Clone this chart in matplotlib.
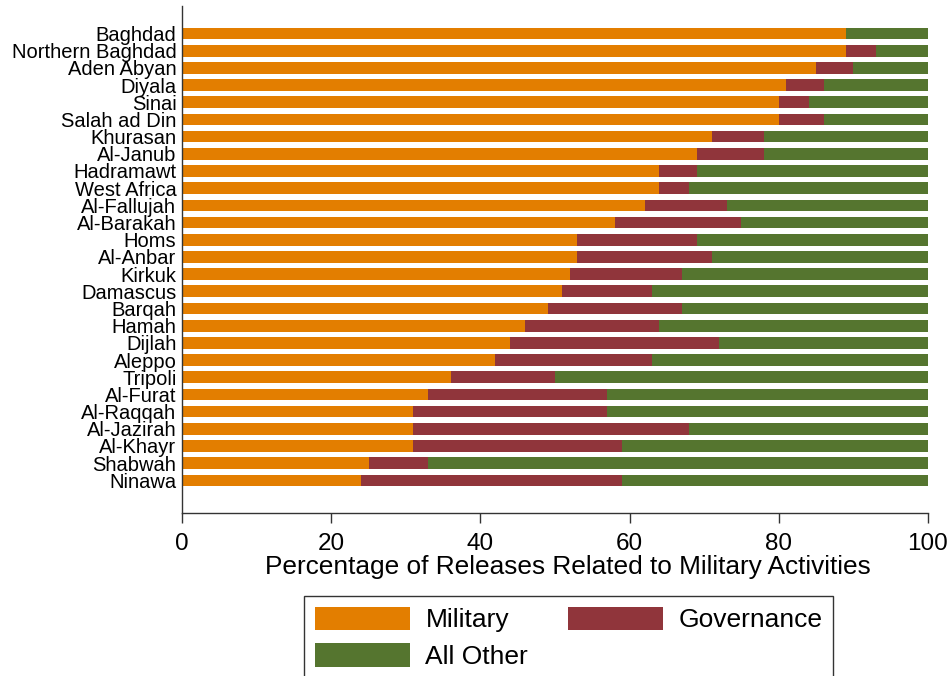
import numpy as np
import matplotlib
matplotlib.use("Agg")
import matplotlib.pyplot as plt

# Share of releases by province (percent)
provinces = ["Baghdad", "Northern Baghdad", "Aden Abyan", "Diyala", "Sinai",
             "Salah ad Din", "Khurasan", "Al-Janub", "Hadramawt", "West Africa",
             "Al-Fallujah", "Al-Barakah", "Homs", "Al-Anbar", "Kirkuk",
             "Damascus", "Barqah", "Hamah", "Dijlah", "Aleppo", "Tripoli",
             "Al-Furat", "Al-Raqqah", "Al-Jazirah", "Al-Khayr", "Shabwah", "Ninawa"]
military = [89, 89, 85, 81, 80, 80, 71, 69, 64, 64, 62, 58, 53, 53, 52,
            51, 49, 46, 44, 42, 36, 33, 31, 31, 31, 25, 24]
# cumulative end of the governance segment
mil_gov = [89, 93, 90, 86, 84, 86, 78, 78, 69, 68, 73, 75, 69, 71, 67,
           63, 67, 64, 72, 63, 50, 57, 57, 68, 59, 33, 59]

military = np.array(military, dtype=float)
governance = np.array(mil_gov, dtype=float) - military
other = 100 - military - governance

plt.rcParams["font.family"] = ["Liberation Sans", "DejaVu Sans"]

c_mil = "#E37E00"
c_gov = "#90353B"
c_oth = "#55752F"

fig = plt.figure(figsize=(9.49, 6.76), dpi=100)
ax = fig.add_axes([182 / 949, 1 - 513 / 676, (928 - 182) / 949, (513 - 6) / 676])

y = np.arange(len(provinces))[::-1]
h = 0.68
ax.barh(y, military, height=h, color=c_mil, label="Military")
ax.barh(y, other, left=military + governance, height=h, color=c_oth, label="All Other")
ax.barh(y, governance, left=military, height=h, color=c_gov, label="Governance")

ax.set_xlim(0, 100)
ax.set_ylim(-1.9, 27.6)
ax.set_yticks(y)
ax.set_yticklabels(provinces, fontsize=14.5)
ax.tick_params(axis="y", length=0, pad=4)
ax.set_xticks([0, 20, 40, 60, 80, 100])
ax.tick_params(axis="x", length=7.2, width=1, labelsize=17.5, pad=7.5, color="#333333")
ax.set_xlabel("Percentage of Releases Related to Military Activities",
              fontsize=18.9, labelpad=0)
ax.xaxis.label.set_x(0.517)

for s in ["top", "right"]:
    ax.spines[s].set_visible(False)
for s in ["left", "bottom"]:
    ax.spines[s].set_color("#333333")
    ax.spines[s].set_linewidth(1)

handles, labels = ax.get_legend_handles_labels()
leg = fig.legend(handles, labels, loc="upper left",
                 bbox_to_anchor=(304 / 949, 1 - 596 / 676),
                 ncol=2, fontsize=19, frameon=True, fancybox=False,
                 edgecolor="black", handlelength=3.6, handleheight=1.0,
                 handletextpad=0.6, columnspacing=1.5, labelspacing=0.4,
                 borderpad=0.4, borderaxespad=0)
leg.get_frame().set_linewidth(1)

fig.savefig("out.png", dpi=100)
